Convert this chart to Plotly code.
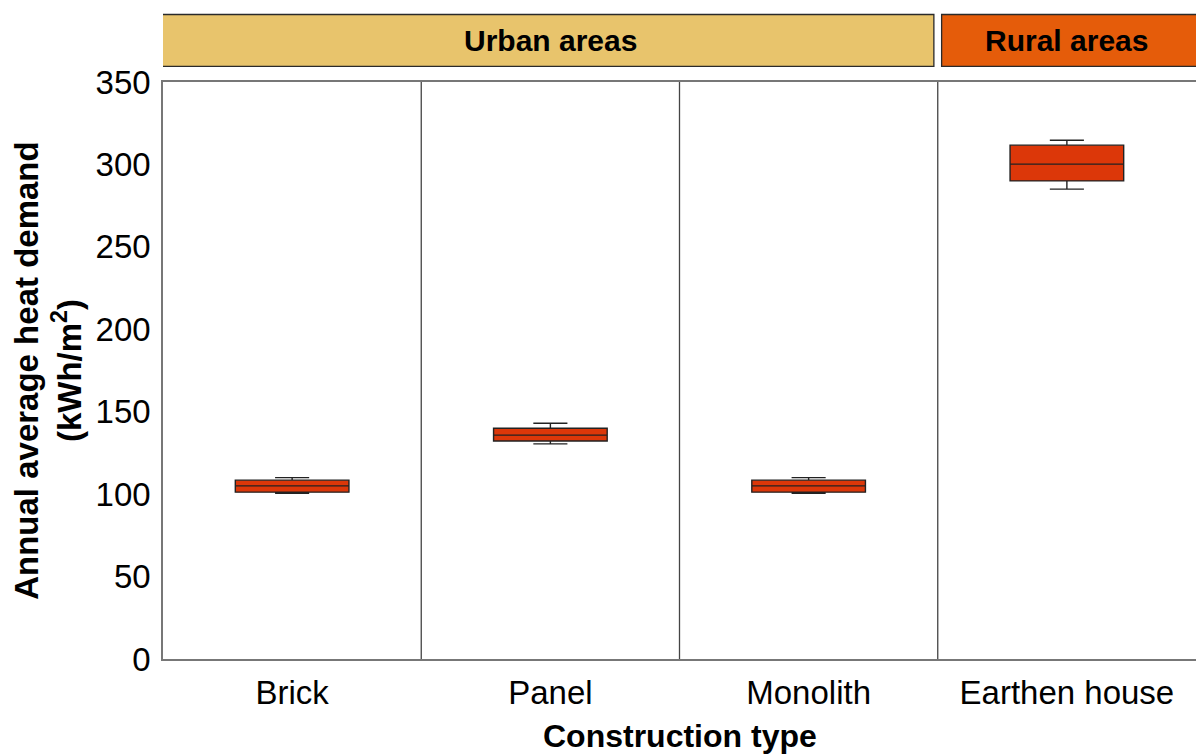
import plotly.graph_objects as go

# data
categories = ['Brick', 'Panel', 'Monolith', 'Earthen house']
lower_whisker = [100.5, 130.5, 100.5, 285.0]
q1_values = [101.2, 132.2, 101.2, 290.0]
median_values = [105.0, 135.8, 105.0, 300.2]
q3_values = [108.5, 140.0, 108.5, 311.7]
upper_whisker = [110.0, 143.0, 110.0, 314.7]

groups = ['Urban areas', 'Rural areas']
group_spans = [(-0.5, 2.5), (2.5, 3.5)]
group_colors = ['#E8C46C', '#E55C0A']

y_ticks = [0, 50, 100, 150, 200, 250, 300, 350]

FONT = 'Liberation Sans, Arial, sans-serif'

fig = go.Figure()

fig.add_trace(go.Box(
    x=categories,
    q1=q1_values,
    median=median_values,
    q3=q3_values,
    lowerfence=lower_whisker,
    upperfence=upper_whisker,
    fillcolor='#DC3709',
    line=dict(color='#222', width=1.4),
    width=0.44,
    whiskerwidth=0.3,
    showlegend=False,
    hoverinfo='y',
))

# vertical separators between categories
for xs in [0.5, 1.5, 2.5]:
    fig.add_shape(type='line', xref='x', yref='paper', x0=xs, x1=xs, y0=0, y1=1,
                  line=dict(color='#444', width=1.3))

# header strips
for name, (a, b), col in zip(groups, group_spans, group_colors):
    pad = 0.015
    fig.add_shape(type='rect', xref='x', yref='paper',
                  x0=a + (pad if a > -0.5 else -0.005), x1=b - (pad if b < 3.5 else -0.01),
                  y0=1.027, y1=1.117,
                  fillcolor=col, line=dict(color='#2a2a2a', width=1.3), layer='above')
    fig.add_annotation(x=(a + b) / 2, y=1.072, xref='x', yref='paper',
                       xanchor='center', yanchor='middle',
                       text=f'<b>{name}</b>', showarrow=False,
                       font=dict(size=30, color='black', family=FONT))

# axis titles
fig.add_annotation(x=-0.112, y=0.5, xref='paper', yref='paper',
                   xanchor='center', yanchor='middle', textangle=-90,
                   text='<b>Annual average heat demand<br>(kWh/m<sup>2</sup>)</b>',
                   showarrow=False, font=dict(size=33, color='black', family=FONT))
fig.add_annotation(x=0.5, y=-0.134, xref='paper', yref='paper',
                   xanchor='center', yanchor='middle',
                   text='<b>Construction type</b>',
                   showarrow=False, font=dict(size=32, color='black', family=FONT))

fig.update_layout(
    width=1196, height=756,
    margin=dict(l=163, r=0, t=82, b=97),
    plot_bgcolor='white', paper_bgcolor='white',
    font=dict(family=FONT, color='black'),
)

fig.update_xaxes(
    range=[-0.5, 3.5], automargin=False,
    showline=True, linecolor='#777', linewidth=1.5, mirror=True,
    ticks='', showgrid=False, ticklabelstandoff=4,
    tickfont=dict(size=33),
)
fig.update_yaxes(
    range=[0, 350], tickvals=y_ticks, automargin=False,
    showline=True, linecolor='#777', linewidth=1.5,
    ticks='', showgrid=False, zeroline=False, ticklabelstandoff=4,
    tickfont=dict(size=33),
)

fig.write_html('out.html', config={'displayModeBar': False},
               post_script="document.body.style.margin='0';")
